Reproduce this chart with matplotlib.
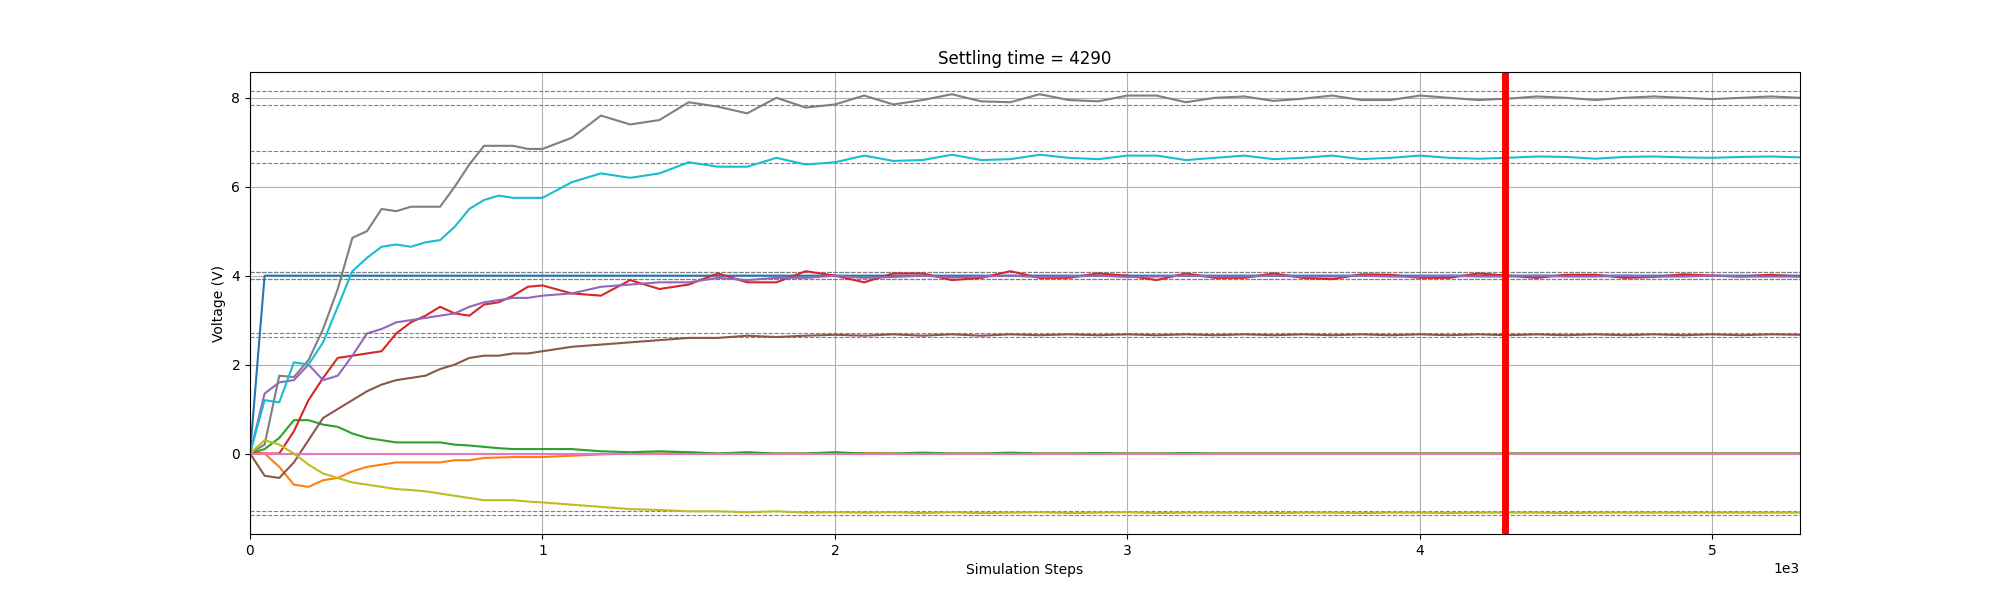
import matplotlib.pyplot as plt
import numpy as np

steps = list(range(0, 1001, 50)) + list(range(1100, 5301, 100))

targets = [4.0, 0.0, 0.0, 4.0, 4.0, 2.6667, 0.0, 8.0, -1.3333, 6.6667]
settling_time = 4290

v_blue = [0, 4.0] + [4.0] * 62
v_orange = [0, 0, -0.3, -0.7, -0.75, -0.6, -0.55, -0.4, -0.3, -0.25, -0.2, -0.2, -0.2, -0.2, -0.15,
            -0.15, -0.1, -0.09, -0.08, -0.08, -0.08,
            -0.05, -0.02, 0.0, 0.0, 0.02, 0.0, 0.0, 0.0, 0.0, 0.0, 0.01, 0.0, 0.0, 0.0, 0.0, 0.0,
            0.0, 0.0, 0.0, 0.0, 0.0, 0.0, 0.0, 0.0, 0.0, 0.0, 0.0, 0.0, 0.0, 0.0, 0.0, 0.0, 0.0,
            0.0, 0.0, 0.0, 0.0, 0.0, 0.0, 0.0, 0.0, 0.0, 0.0]
v_green = [0, 0.1, 0.35, 0.75, 0.75, 0.65, 0.6, 0.45, 0.35, 0.3, 0.25, 0.25, 0.25, 0.25, 0.2,
           0.18, 0.15, 0.12, 0.1, 0.1, 0.1,
           0.1, 0.05, 0.03, 0.05, 0.03, 0.0, 0.03, 0.0, 0.0, 0.03, 0.0, 0.0, 0.02, 0.0, 0.0, 0.02,
           0.0, 0.0, 0.01, 0.0, 0.0, 0.01, 0.0, 0.0, 0.0, 0.0, 0.0, 0.0, 0.0, 0.0, 0.0, 0.0, 0.0,
           0.0, 0.0, 0.0, 0.0, 0.0, 0.0, 0.0, 0.0, 0.0, 0.0]
v_red = [0, 0, 0, 0.5, 1.2, 1.7, 2.15, 2.2, 2.25, 2.3, 2.7, 2.95, 3.1, 3.3, 3.15,
         3.1, 3.35, 3.4, 3.55, 3.75, 3.78,
         3.6, 3.55, 3.9, 3.7, 3.8, 4.05, 3.85, 3.85, 4.1, 4.0, 3.85, 4.05, 4.05, 3.9, 3.95, 4.1,
         3.95, 3.95, 4.05, 4.0, 3.9, 4.05, 3.95, 3.95, 4.05, 3.95, 3.92, 4.03, 4.02, 3.95, 3.95,
         4.05, 4.0, 3.95, 4.02, 4.02, 3.95, 3.97, 4.03, 4.0, 3.98, 4.02, 3.98]
v_purple = [0, 1.35, 1.6, 1.65, 2.0, 1.65, 1.75, 2.2, 2.7, 2.8, 2.95, 3.0, 3.05, 3.1, 3.15,
            3.3, 3.4, 3.45, 3.5, 3.5, 3.55,
            3.6, 3.75, 3.8, 3.85, 3.85, 3.95, 3.9, 3.95, 3.95, 4.0, 3.95, 3.97, 4.0, 3.96, 3.98,
            4.0, 3.97, 3.98, 4.0, 3.97, 3.98, 4.0, 3.98, 3.98, 4.0, 3.98, 3.98, 4.0, 3.98, 3.98,
            4.0, 3.98, 3.98, 4.0, 3.98, 3.98, 4.0, 3.98, 3.98, 4.0, 3.98, 3.98, 3.98]
v_brown = [0, -0.5, -0.55, -0.2, 0.3, 0.8, 1.0, 1.2, 1.4, 1.55, 1.65, 1.7, 1.75, 1.9, 2.0,
           2.15, 2.2, 2.2, 2.25, 2.25, 2.3,
           2.4, 2.45, 2.5, 2.55, 2.6, 2.6, 2.65, 2.62, 2.65, 2.67, 2.65, 2.68, 2.65, 2.68, 2.65,
           2.68, 2.66, 2.68, 2.66, 2.68, 2.66, 2.68, 2.66, 2.68, 2.66, 2.68, 2.66, 2.68, 2.66,
           2.68, 2.66, 2.68, 2.66, 2.68, 2.66, 2.68, 2.66, 2.68, 2.66, 2.68, 2.66, 2.68, 2.67]
v_pink = [0.0] * 64
v_gray = [0, 0.2, 1.75, 1.72, 2.1, 2.8, 3.7, 4.85, 5.0, 5.5, 5.45, 5.55, 5.55, 5.55, 6.0,
          6.5, 6.92, 6.92, 6.92, 6.85, 6.85,
          7.1, 7.6, 7.4, 7.5, 7.9, 7.8, 7.65, 8.0, 7.78, 7.85, 8.05, 7.85, 7.95, 8.08, 7.92, 7.9,
          8.08, 7.95, 7.92, 8.05, 8.05, 7.9, 8.0, 8.03, 7.93, 7.98, 8.05, 7.95, 7.95, 8.05, 8.0,
          7.95, 7.98, 8.03, 8.0, 7.95, 8.0, 8.03, 8.0, 7.97, 8.0, 8.03, 8.0]
v_olive = [0, 0.3, 0.2, 0.0, -0.25, -0.45, -0.55, -0.65, -0.7, -0.75, -0.8, -0.82, -0.85, -0.9, -0.95,
           -1.0, -1.05, -1.05, -1.05, -1.08, -1.1,
           -1.15, -1.2, -1.25, -1.27, -1.3, -1.3, -1.32, -1.3, -1.33, -1.32, -1.33, -1.32, -1.34,
           -1.32, -1.34, -1.33, -1.32, -1.34, -1.33, -1.32, -1.34, -1.33, -1.33, -1.33, -1.34,
           -1.33, -1.33, -1.34, -1.33, -1.33, -1.34, -1.33, -1.33, -1.33, -1.34, -1.33, -1.33,
           -1.33, -1.33, -1.33, -1.33, -1.33, -1.33]
v_cyan = [0, 1.2, 1.15, 2.05, 2.0, 2.5, 3.3, 4.1, 4.4, 4.65, 4.7, 4.65, 4.75, 4.8, 5.1,
          5.5, 5.7, 5.8, 5.75, 5.75, 5.75,
          6.1, 6.3, 6.2, 6.3, 6.55, 6.45, 6.45, 6.65, 6.5, 6.55, 6.7, 6.58, 6.6, 6.72, 6.6, 6.62,
          6.72, 6.65, 6.62, 6.7, 6.7, 6.6, 6.65, 6.7, 6.62, 6.65, 6.7, 6.62, 6.65, 6.7, 6.65,
          6.63, 6.65, 6.68, 6.67, 6.63, 6.67, 6.68, 6.66, 6.65, 6.67, 6.68, 6.66]

series = [v_blue, v_orange, v_green, v_red, v_purple, v_brown, v_pink, v_gray, v_olive, v_cyan]

fig, ax = plt.subplots(figsize=(20, 6), dpi=100)

for t in targets:
    if t != 0:
        band = max(abs(t) * 0.02, 0.05)
        ax.axhline(t + band, color="gray", ls="--", lw=0.8)
        ax.axhline(t - band, color="gray", ls="--", lw=0.8)

for i, v in enumerate(series):
    ax.plot(steps, v, color=f"C{i}", lw=1.5)

ax.axvline(settling_time, color="red", lw=5)

ax.set_xlim(0, 5300)
ax.set_ylim(-1.81, 8.58)
ax.ticklabel_format(axis="x", style="sci", scilimits=(0, 0))
ax.grid(True)
ax.set_title("Settling time = 4290")
ax.set_xlabel("Simulation Steps")
ax.set_ylabel("Voltage (V)")

fig.savefig("out.png")
